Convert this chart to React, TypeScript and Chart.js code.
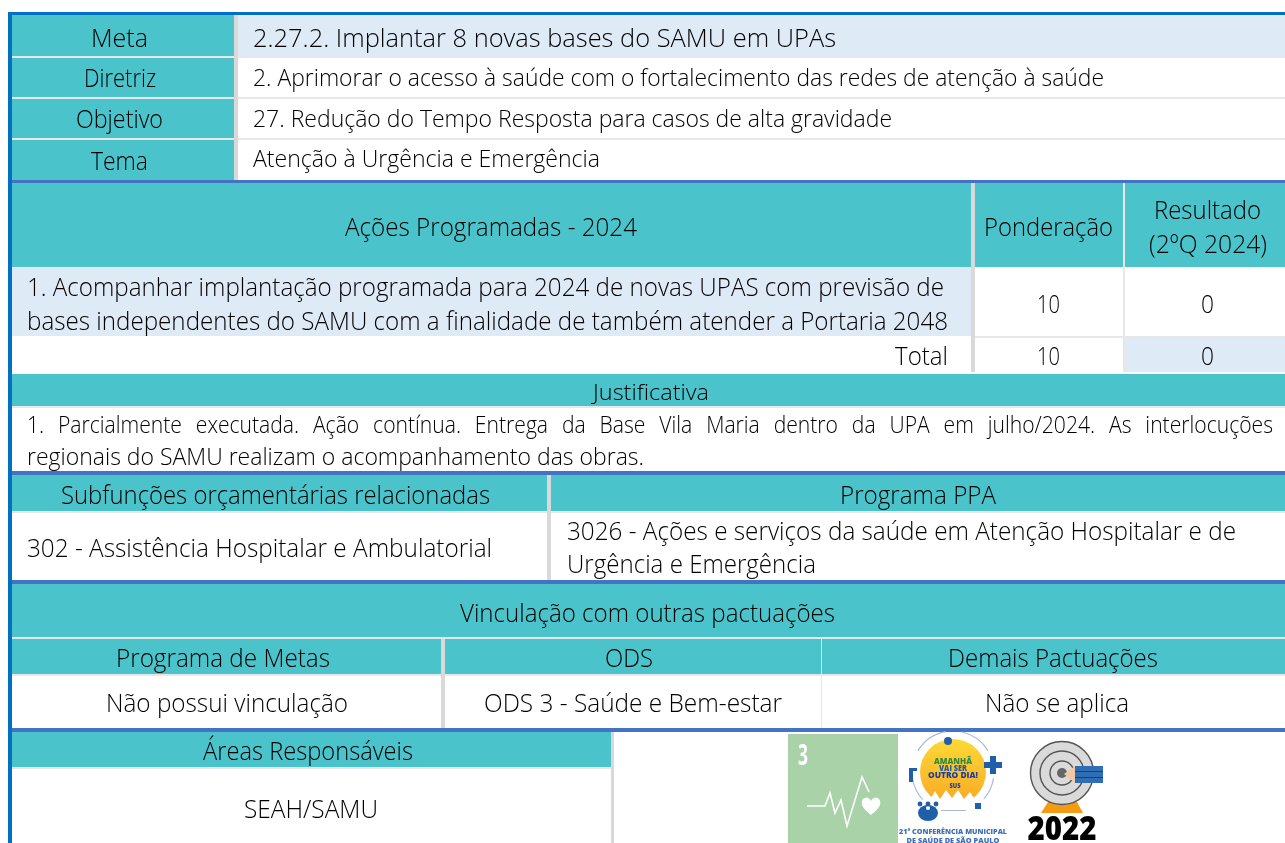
import React, { useEffect, useRef } from "react";
import { Chart, registerables } from "chart.js";

Chart.register(...registerables);

// ---------- content ----------
const metaLabels = ["Meta", "Diretriz", "Objetivo", "Tema"];
const metaValues = [
  "2.27.2. Implantar 8 novas bases do SAMU em UPAs",
  "2. Aprimorar o acesso à saúde com o fortalecimento das redes de atenção à saúde",
  "27. Redução do Tempo Resposta para casos de alta gravidade",
  "Atenção à Urgência e Emergência",
];
const actionHeaders = ["Ações Programadas - 2024", "Ponderação", "Resultado", "(2ºQ 2024)"];
const actionLines = [
  "1. Acompanhar implantação programada para 2024 de novas UPAS com previsão de",
  "bases independentes do SAMU com a finalidade de também atender a Portaria 2048",
];
const totalLabel = "Total";
const ponderacao = [10, 10];
const resultado = [0, 0];
const justificativaTitle = "Justificativa";
const justificativaLines = [
  "1. Parcialmente executada. Ação contínua. Entrega da Base Vila Maria dentro da UPA em julho/2024. As interlocuções",
  "regionais do SAMU realizam o acompanhamento das obras.",
];
const budgetHeaders = ["Subfunções orçamentárias relacionadas", "Programa PPA"];
const budgetValue = "302 - Assistência Hospitalar e Ambulatorial";
const ppaLines = [
  "3026 - Ações e serviços da saúde em Atenção Hospitalar e de",
  "Urgência e Emergência",
];
const linkTitle = "Vinculação com outras pactuações";
const linkHeaders = ["Programa de Metas", "ODS", "Demais Pactuações"];
const linkValues = ["Não possui vinculação", "ODS 3 - Saúde e Bem-estar", "Não se aplica"];
const areasHeader = "Áreas Responsáveis";
const areasValue = "SEAH/SAMU";
const logoSlogan = ["AMANHÃ", "VAI SER", "OUTRO DIA!"];
const logoSus = "SUS";
const logoConference = ["21ª CONFERÊNCIA MUNICIPAL", "DE SAÚDE DE SÃO PAULO"];
const odsNumber = "3";
const logoYear = "2022";

// ---------- styling ----------
const TEAL = "#4BC3CB";
const PALE = "#DEEAF6";
const GREY = "#D9D9D9";
const LIGHT = "#E7E7E7";
const LINE = "#4472C4";
const EDGE = "#0070C0";
const INK = "#000000";
const FACE = '"Open Sans"';

// x0, y0, x1, y1, colour
const rects: [number, number, number, number, string][] = [
  [238, 15, 1285, 57, PALE],
  [238, 57, 1285, 58, LIGHT],
  [238, 97, 1285, 99, LIGHT],
  [238, 138, 1285, 140, LIGHT],
  [12, 15, 234, 180, TEAL],
  [12, 56, 234, 58, LIGHT],
  [12, 97, 234, 99, LIGHT],
  [12, 138, 234, 140, LIGHT],
  [234, 15, 238, 184, GREY],
  [12, 183, 1285, 267, TEAL],
  [971, 183, 975, 372, GREY],
  [1123, 183, 1125, 372, LIGHT],
  [12, 267, 971, 336, PALE],
  [975, 336, 1285, 338, LIGHT],
  [1125, 338, 1285, 372, PALE],
  [12, 374, 1285, 406, TEAL],
  [12, 406, 1285, 408, LIGHT],
  [12, 475, 1285, 511, TEAL],
  [12, 511, 1285, 513, LIGHT],
  [547, 475, 551, 580, GREY],
  [12, 584, 1285, 637, TEAL],
  [12, 637, 1285, 639, LIGHT],
  [12, 639, 1285, 674, TEAL],
  [12, 674, 1285, 676, LIGHT],
  [441, 639, 445, 732, GREY],
  [821, 639, 822, 728, LIGHT],
  [12, 732, 611, 767, TEAL],
  [12, 767, 611, 769, LIGHT],
  [611, 732, 614, 843, GREY],
  [8, 12, 1285, 15, EDGE],
  [8, 12, 12, 843, EDGE],
  [12, 180, 1285, 183, LINE],
  [12, 471, 1285, 475, LINE],
  [12, 580, 1285, 584, LINE],
  [12, 728, 1285, 732, LINE],
  [788, 734, 898, 843, "#A9D2A8"],
];

// text, x0, x1, baseline, size
type Label = [string, number, number, number, number];
const labels: Label[] = [
  [metaLabels[0], 91, 148, 47, 26],
  [metaLabels[1], 84, 156, 87, 25],
  [metaLabels[2], 76, 163, 128, 25],
  [metaLabels[3], 91, 148, 170, 25],
  [metaValues[0], 253, 836, 47, 26],
  [metaValues[1], 253, 1104, 86, 24],
  [metaValues[2], 253, 892, 127, 24],
  [metaValues[3], 253, 600, 167, 24],
  [actionHeaders[0], 345, 637, 236, 26],
  [actionHeaders[1], 984, 1113, 236, 26],
  [actionHeaders[2], 1154, 1261, 219, 26],
  [actionHeaders[3], 1149, 1267, 253, 26],
  [actionLines[0], 27, 944, 296, 26],
  [actionLines[1], 27, 948, 330, 26],
  [String(ponderacao[0]), 1037, 1060, 313, 26],
  [String(resultado[0]), 1201, 1214, 313, 26],
  [totalLabel, 895, 948, 365, 26],
  [String(ponderacao[1]), 1037, 1060, 365, 26],
  [String(resultado[1]), 1201, 1214, 365, 26],
  [justificativaTitle, 593, 709, 400, 22],
  [justificativaLines[1], 27, 644, 465, 24],
  [budgetHeaders[0], 61, 490, 504, 26],
  [budgetHeaders[1], 840, 996, 504, 26],
  [budgetValue, 27, 492, 557, 26],
  [ppaLines[0], 567, 1236, 540, 26],
  [ppaLines[1], 567, 816, 573, 26],
  [linkTitle, 460, 835, 622, 26],
  [linkHeaders[0], 116, 330, 667, 26],
  [linkHeaders[1], 605, 653, 667, 26],
  [linkHeaders[2], 948, 1158, 667, 26],
  [linkValues[0], 106, 348, 712, 26],
  [linkValues[1], 484, 782, 712, 26],
  [linkValues[2], 985, 1129, 712, 26],
  [areasHeader, 203, 413, 760, 26],
  [areasValue, 244, 378, 818, 26],
];

function drawFitted(ctx: CanvasRenderingContext2D, x: (v: number) => number, y: (v: number) => number, l: Label) {
  const [text, x0, x1, base, size] = l;
  ctx.font = `300 ${size}px ${FACE}`;
  const natural = ctx.measureText(text).width;
  ctx.save();
  ctx.translate(x(x0), y(base));
  ctx.scale((x(x1) - x(x0)) / natural, 1);
  ctx.fillText(text, 0, 0);
  ctx.restore();
}

function drawJustified(ctx: CanvasRenderingContext2D, x: (v: number) => number, y: (v: number) => number) {
  const words = justificativaLines[0].split(" ");
  const x0 = 27, x1 = 1273, base = 433, squeeze = 0.88;
  ctx.font = `300 24px ${FACE}`;
  const total = words.reduce((s, w) => s + ctx.measureText(w).width * squeeze, 0);
  const gap = (x1 - x0 - total) / (words.length - 1);
  let cur = x0;
  for (const w of words) {
    ctx.save();
    ctx.translate(x(cur), y(base));
    ctx.scale(squeeze, 1);
    ctx.fillText(w, 0, 0);
    ctx.restore();
    cur += ctx.measureText(w).width * squeeze + gap;
  }
}

function centred(ctx: CanvasRenderingContext2D, text: string, cx: number, base: number, font: string, colour: string, width?: number) {
  ctx.font = font;
  ctx.fillStyle = colour;
  const natural = ctx.measureText(text).width;
  ctx.save();
  ctx.translate(cx, base);
  if (width) ctx.scale(width / natural, 1);
  ctx.textAlign = "center";
  ctx.fillText(text, 0, 0);
  ctx.restore();
}

function drawLogos(ctx: CanvasRenderingContext2D) {
  // SDG 3 tile
  centred(ctx, odsNumber, 803, 765, `700 28px ${FACE}`, "#FFFFFF", 10);
  ctx.strokeStyle = "#FFFFFF";
  ctx.lineWidth = 1.6;
  ctx.lineJoin = "miter";
  ctx.beginPath();
  [[807, 806], [825, 806], [830, 793], [835, 813], [841, 800], [847, 826], [862, 777], [869, 792]].forEach(([a, b], i) =>
    i ? ctx.lineTo(a, b) : ctx.moveTo(a, b)
  );
  ctx.stroke();
  ctx.fillStyle = "#FFFFFF";
  ctx.beginPath();
  ctx.moveTo(871, 815);
  ctx.bezierCurveTo(862, 808, 861, 804, 862, 801);
  ctx.bezierCurveTo(864, 796, 869, 797, 871, 801);
  ctx.bezierCurveTo(873, 797, 878, 796, 880, 801);
  ctx.bezierCurveTo(881, 804, 880, 808, 871, 815);
  ctx.fill();

  // conference logo
  ctx.strokeStyle = "#A9BBD3";
  ctx.lineWidth = 1.2;
  for (const [s, e] of [[-2.6, -1.75], [-1.35, -0.55], [0.15, 0.75], [2.4, 3.0]]) {
    ctx.beginPath();
    ctx.arc(953, 772, 41, s, e);
    ctx.stroke();
  }
  const sun = ctx.createLinearGradient(0, 740, 0, 805);
  sun.addColorStop(0, "#FDD835");
  sun.addColorStop(1, "#F9A825");
  ctx.fillStyle = sun;
  ctx.beginPath();
  ctx.arc(953, 772, 33, 0, Math.PI * 2);
  ctx.fill();
  ctx.fillStyle = "#FFFFFF";
  ctx.beginPath();
  ctx.moveTo(920, 806);
  [[926, 794], [930, 800], [935, 791], [940, 799], [946, 790], [952, 798], [958, 790], [964, 799], [970, 792], [975, 800], [982, 794], [986, 806]].forEach(([a, b]) => ctx.lineTo(a, b));
  ctx.fill();
  ctx.fillStyle = "#1F5FA8";
  ctx.beginPath();
  ctx.arc(948, 741, 4, 0, Math.PI * 2);
  ctx.fill();
  ctx.fillRect(984, 762, 18, 6);
  ctx.fillRect(990, 756, 6, 18);
  ctx.fillRect(909, 770, 4, 12);
  ctx.fillRect(909, 768, 8, 3);
  // people
  ctx.beginPath();
  ctx.ellipse(928, 813, 10, 8, 0, 0, Math.PI * 2);
  ctx.fill();
  ctx.fillStyle = "#FFFFFF";
  ctx.beginPath();
  ctx.arc(928, 808, 2, 0, Math.PI * 2);
  ctx.fill();
  ctx.fillStyle = "#1F5FA8";
  for (const cx of [920, 928, 936]) {
    ctx.beginPath();
    ctx.arc(cx, 804, 2.4, 0, Math.PI * 2);
    ctx.fill();
  }
  ctx.fillRect(975, 803, 6, 6);
  ctx.fillStyle = "#A9BBD3";
  ctx.fillRect(941, 810, 25, 1);
  centred(ctx, logoSlogan[0], 953, 764, `800 9.5px ${FACE}`, "#2E8B3D", 38);
  centred(ctx, logoSlogan[1], 953, 771, `800 9px ${FACE}`, "#1F5FA8", 28);
  centred(ctx, logoSlogan[2], 953, 778, `800 9.5px ${FACE}`, "#1F3F9E", 50);
  centred(ctx, logoSus, 955, 788, `800 6px ${FACE}`, "#1F3F9E", 11);
  centred(ctx, logoConference[0], 953, 834, `800 7.5px ${FACE}`, "#3D6FB5", 108);
  centred(ctx, logoConference[1], 953, 843, `800 7.5px ${FACE}`, "#3D6FB5", 93);

  // target logo
  ctx.fillStyle = "#F39C12";
  ctx.beginPath();
  ctx.moveTo(1048, 802);
  ctx.lineTo(1077, 802);
  ctx.lineTo(1083, 813);
  ctx.lineTo(1041, 813);
  ctx.fill();
  ctx.fillStyle = "#DADADA";
  ctx.beginPath();
  ctx.arc(1062, 773, 32, 0, Math.PI * 2);
  ctx.fill();
  ctx.strokeStyle = "#555555";
  ctx.lineWidth = 1.4;
  for (const r of [31.5, 22, 12]) {
    ctx.beginPath();
    ctx.arc(1062, 773, r, 0, Math.PI * 2);
    ctx.stroke();
  }
  ctx.fillStyle = "#666666";
  ctx.beginPath();
  ctx.arc(1062, 773, 5, 0, Math.PI * 2);
  ctx.fill();
  ctx.fillStyle = "#F3C9A5";
  ctx.beginPath();
  ctx.moveTo(1064, 774);
  ctx.lineTo(1075, 766);
  ctx.lineTo(1075, 783);
  ctx.fill();
  ctx.fillStyle = "#2F6DB5";
  ctx.fillRect(1075, 766, 28, 17);
  ctx.fillStyle = "#1A3F73";
  ctx.fillRect(1075, 771, 28, 1);
  ctx.fillRect(1075, 777, 28, 1);
  centred(ctx, logoYear, 1062, 840, `800 33px ${FACE}`, "#000000", 69);
}

const tablePlugin = {
  id: "tablePlugin",
  beforeDatasetsDraw(chart: any) {
    const { ctx, scales } = chart;
    const x = (v: number) => scales.x.getPixelForValue(v);
    const y = (v: number) => scales.y.getPixelForValue(v);
    ctx.save();
    ctx.fillStyle = "#FFFFFF";
    ctx.fillRect(0, 0, chart.width, chart.height);
    for (const [x0, y0, x1, y1, c] of rects) {
      ctx.fillStyle = c;
      ctx.fillRect(x(x0), y(y0), x(x1) - x(x0), y(y1) - y(y0));
    }
    ctx.fillStyle = INK;
    ctx.textBaseline = "alphabetic";
    for (const l of labels) drawFitted(ctx, x, y, l);
    drawJustified(ctx, x, y);
    drawLogos(ctx);
    ctx.restore();
  },
};

export default function App() {
  const ref = useRef<HTMLCanvasElement>(null);
  useEffect(() => {
    const chart = new Chart(ref.current as HTMLCanvasElement, {
      type: "scatter",
      data: { datasets: [{ data: [] }] },
      options: {
        animation: false,
        responsive: false,
        layout: { padding: 0 },
        plugins: { legend: { display: false }, tooltip: { enabled: false } },
        scales: {
          x: { type: "linear", min: 0, max: 1285, display: false },
          y: { type: "linear", min: 0, max: 843, reverse: true, display: false },
        },
      },
      plugins: [tablePlugin],
    } as any);
    return () => chart.destroy();
  }, []);
  return <canvas ref={ref} width={1285} height={843} style={{ position: "fixed", left: 0, top: 0, display: "block" }} />;
}
